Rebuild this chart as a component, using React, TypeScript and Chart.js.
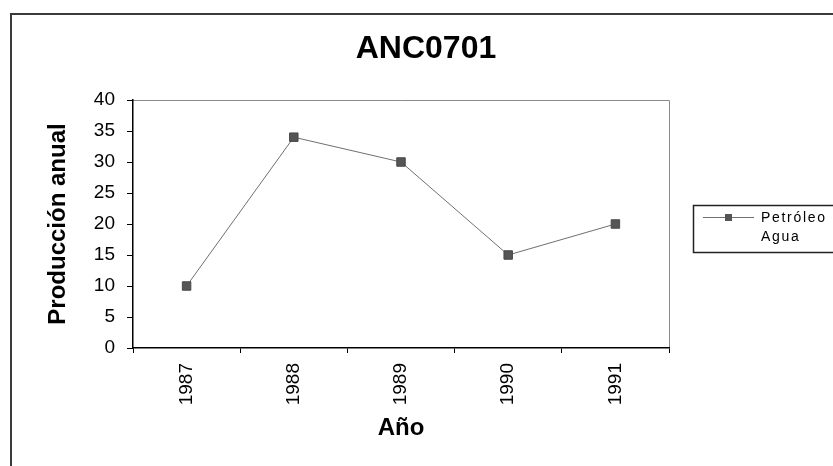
import React, { useEffect, useRef } from "react";
import { Chart, registerables } from "chart.js";

Chart.register(...registerables);

const chartTitle = "ANC0701";
const yAxisTitle = "Producción anual";
const xAxisTitle = "Año";
const years = ["1987", "1988", "1989", "1990", "1991"];
const petroleo = [10, 34, 30, 15, 20];
const agua: (number | null)[] = [null, null, null, null, null];
const seriesNames = ["Petróleo", "Agua"];
const yMin = 0;
const yMax = 40;
const yStep = 5;

const FONT = '"Liberation Sans", Arial, sans-serif';

const decorPlugin = {
  id: "decor",
  beforeDraw(chart: any) {
    const { ctx, chartArea } = chart;
    ctx.save();
    ctx.fillStyle = "#ffffff";
    ctx.fillRect(0, 0, chart.width, chart.height);
    // outer frame (left + top)
    ctx.strokeStyle = "#3a3a3a";
    ctx.lineWidth = 2;
    ctx.beginPath();
    ctx.moveTo(11, chart.height + 2);
    ctx.lineTo(11, 14);
    ctx.lineTo(chart.width + 2, 14);
    ctx.stroke();
    // plot area border (top + right)
    ctx.strokeStyle = "#8a8a8a";
    ctx.lineWidth = 1;
    ctx.beginPath();
    ctx.moveTo(chartArea.left, chartArea.top + 0.5);
    ctx.lineTo(chartArea.right + 0.5, chartArea.top + 0.5);
    ctx.lineTo(chartArea.right + 0.5, chartArea.bottom);
    ctx.stroke();
    ctx.restore();
  },
  afterDraw(chart: any) {
    const { ctx } = chart;
    ctx.save();
    // title
    ctx.fillStyle = "#000";
    ctx.font = `bold 32px ${FONT}`;
    ctx.textAlign = "center";
    ctx.textBaseline = "middle";
    ctx.fillText(chartTitle, 426, 49);

    // legend box
    ctx.strokeStyle = "#222";
    ctx.lineWidth = 1.5;
    ctx.strokeRect(693.5, 205.5, 160, 47);
    const ds = chart.data.datasets;
    // entry 1
    ctx.strokeStyle = ds[0].borderColor;
    ctx.lineWidth = 1;
    ctx.beginPath();
    ctx.moveTo(703, 217.5);
    ctx.lineTo(754, 217.5);
    ctx.stroke();
    ctx.fillStyle = ds[0].pointBackgroundColor;
    ctx.fillRect(725, 214, 7, 7);
    ctx.fillStyle = "#000";
    ctx.font = `14px ${FONT}`;
    ctx.textAlign = "left";
    ctx.textBaseline = "middle";
    try {
      (ctx as any).letterSpacing = "1.7px";
    } catch (e) {}
    ctx.fillText(ds[0].label, 761, 218);
    ctx.fillText(ds[1].label, 761, 237);
    ctx.restore();
  },
};

export default function App() {
  const ref = useRef<HTMLCanvasElement | null>(null);
  useEffect(() => {
    document.body.style.margin = "0";
    const canvas = ref.current;
    if (!canvas) return;
    const chart = new Chart(canvas, {
      type: "line",
      data: {
        labels: years,
        datasets: [
          {
            label: seriesNames[0],
            data: petroleo,
            borderColor: "#707070",
            borderWidth: 1,
            pointStyle: "rect",
            pointRadius: 6,
            pointBackgroundColor: "#555555",
            pointBorderColor: "#4a4a4a",
            pointBorderWidth: 1,
            tension: 0,
          },
          {
            label: seriesNames[1],
            data: agua,
            borderColor: "rgba(0,0,0,0)",
            pointRadius: 0,
          },
        ],
      },
      plugins: [decorPlugin],
      options: {
        responsive: false,
        animation: false,
        devicePixelRatio: 1,
        layout: { padding: { top: 100, right: 164, left: 0, bottom: 0 } },
        plugins: {
          legend: { display: false },
          title: { display: false },
          tooltip: { enabled: false },
        },
        scales: {
          x: {
            type: "category",
            offset: true,
            grid: {
              offset: true,
              drawOnChartArea: false,
              drawTicks: true,
              tickLength: 5,
              color: "#000",
            },
            border: { display: true, color: "#000", width: 1.5 },
            ticks: {
              minRotation: 90,
              maxRotation: 90,
              padding: 10,
              color: "#000",
              font: { family: FONT, size: 19 },
            },
            title: {
              display: true,
              text: xAxisTitle,
              color: "#000",
              font: { family: FONT, size: 24, weight: "bold" },
              padding: { top: 0, bottom: 23 },
            },
            afterFit(scale: any) {
              scale.height = 118;
            },
          },
          y: {
            min: yMin,
            max: yMax,
            ticks: {
              stepSize: yStep,
              padding: 12,
              color: "#000",
              font: { family: FONT, size: 19 },
            },
            grid: {
              drawOnChartArea: false,
              drawTicks: true,
              tickLength: 6,
              color: "#000",
            },
            border: { display: true, color: "#000", width: 1.5 },
            title: {
              display: true,
              text: yAxisTitle,
              color: "#000",
              font: { family: FONT, size: 24, weight: "bold" },
              padding: { top: 44, bottom: 0 },
            },
            afterFit(scale: any) {
              scale.width = 133;
            },
          },
        },
      },
    } as any);
    return () => chart.destroy();
  }, []);
  return (
    <div style={{ position: "absolute", left: 0, top: 0, width: 833, height: 466 }}>
      <canvas ref={ref} width={833} height={466} />
    </div>
  );
}
